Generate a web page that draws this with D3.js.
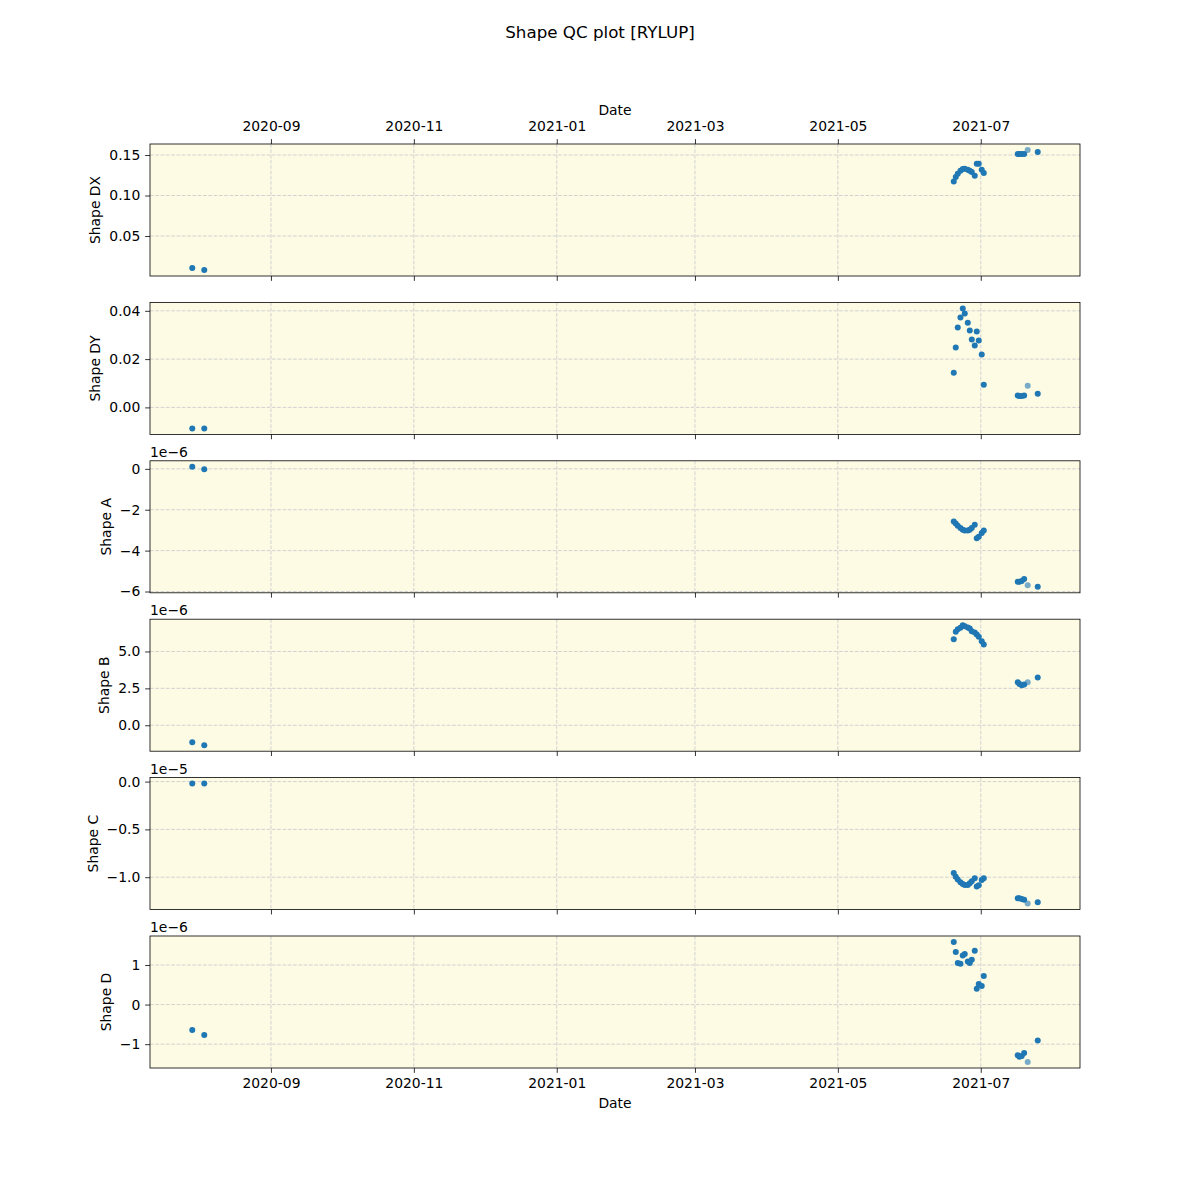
<!DOCTYPE html>
<html><head><meta charset="utf-8">
<script src="https://cdn.jsdelivr.net/npm/d3@7"></script>
<style>body{margin:0;background:#fff}text{font-family:"DejaVu Sans",sans-serif}</style>
</head><body><svg id="c" width="1200" height="1200"></svg>
<script>
// ---- data ----
const dates = [
  "2020-07-29T10:00","2020-08-03T13:00",
  "2021-06-19T11:30","2021-06-20T08:00","2021-06-21T04:30","2021-06-22T08:00","2021-06-23T07:40",
  "2021-06-24T04:00","2021-06-25T11:00","2021-06-26T07:30","2021-06-27T04:00","2021-06-28T10:30",
  "2021-06-29T07:00","2021-06-30T03:30","2021-07-01T10:00","2021-07-02T07:00",
  "2021-07-16T19:00","2021-07-17T12:00","2021-07-18T12:00","2021-07-19T12:30","2021-07-21T01:00","2021-07-25T07:40"
];
const flagged = [0,0, 0,0,0,0,0, 0,0,0,0,0, 0,0,0,0, 0,0,0,0,1,0];
const shapeDX = [0.0105,0.0080, 0.1174,0.1228,0.1269,0.1306,0.1327,0.1331,0.1318,0.1306,0.1290,0.1244,0.1393,0.1393,0.1318,0.1278, 0.1512,0.1512,0.1512,0.1512,0.1562,0.1537];
const shapeDY = [-0.0087,-0.0087, 0.0144,0.0248,0.0331,0.0372,0.0410,0.0389,0.0351,0.0318,0.0281,0.0256,0.0314,0.0277,0.0219,0.0094, 0.0049,0.0047,0.0047,0.0049,0.0090,0.0057];
const shapeA = [0.10e-6,-0.02e-6, -2.58e-6,-2.67e-6,-2.78e-6,-2.89e-6,-2.98e-6,-3.02e-6,-3.02e-6,-2.98e-6,-2.89e-6,-2.73e-6,-3.40e-6,-3.32e-6,-3.14e-6,-3.02e-6, -5.52e-6,-5.52e-6,-5.49e-6,-5.39e-6,-5.69e-6,-5.77e-6];
const shapeB = [-1.15e-6,-1.35e-6, 5.83e-6,6.33e-6,6.51e-6,6.60e-6,6.78e-6,6.71e-6,6.62e-6,6.55e-6,6.37e-6,6.28e-6,6.15e-6,5.99e-6,5.70e-6,5.47e-6, 2.91e-6,2.79e-6,2.72e-6,2.77e-6,2.91e-6,3.24e-6];
const shapeC = [-0.021e-5,-0.021e-5, -0.956e-5,-0.994e-5,-1.025e-5,-1.053e-5,-1.071e-5,-1.081e-5,-1.081e-5,-1.064e-5,-1.043e-5,-1.011e-5,-1.098e-5,-1.085e-5,-1.030e-5,-1.011e-5, -1.221e-5,-1.221e-5,-1.228e-5,-1.235e-5,-1.276e-5,-1.263e-5];
const shapeD = [-0.64e-6,-0.77e-6, 1.58e-6,1.33e-6,1.05e-6,1.03e-6,1.24e-6,1.28e-6,1.09e-6,1.05e-6,1.13e-6,1.36e-6,0.40e-6,0.52e-6,0.47e-6,0.72e-6, -1.28e-6,-1.32e-6,-1.30e-6,-1.22e-6,-1.45e-6,-0.91e-6];

const panelLabels = ["Shape DX","Shape DY","Shape A","Shape B","Shape C","Shape D"];
const panelSeries = [shapeDX, shapeDY, shapeA, shapeB, shapeC, shapeD];
const panelExponent = [0, 0, -6, -6, -5, -6];
const yTickValues = [[0.05,0.10,0.15],[0.00,0.02,0.04],[-6,-4,-2,0],[0.0,2.5,5.0],[-1.0,-0.5,0.0],[-1,0,1]];
const yTickFormats = [".2f",".2f","d",".1f",".1f","d"];
const xTickDates = ["2020-09-01","2020-11-01","2021-01-01","2021-03-01","2021-05-01","2021-07-01"];
const titleText = "Shape QC plot [RYLUP]";
const xLabel = "Date";

// ---- layout ----
const svg = d3.select("#c");
const L = 150, R = 1080, top0 = 144, H = 132, gap = 26.4;
const FS = 13.9, tickLen = 4.86, tickPad = 4.86;
const parse = d3.isoParse;
const xs = dates.map(d => parse(d));
const xExt = d3.extent(xs);
const xm = (xExt[1] - xExt[0]) * 0.05;
const x = d3.scaleTime().domain([new Date(+xExt[0] - xm), new Date(+xExt[1] + xm)]).range([L, R]);
const xTicks = xTickDates.map(d => parse(d));
const fmtX = d3.timeFormat("%Y-%m");
const gridColor = "#cdcdd0";

svg.append("text").attr("x", 600).attr("y", 38).attr("text-anchor", "middle")
  .attr("font-size", 16.7).text(titleText);

panelSeries.forEach((vals, i) => {
  const t = top0 + i * (H + gap), b = t + H;
  const scale = Math.pow(10, panelExponent[i]);
  const v = vals.map(d => d / scale);
  const e = d3.extent(v), m = (e[1] - e[0]) * 0.05;
  const y = d3.scaleLinear().domain([e[0] - m, e[1] + m]).range([b, t]);
  const g = svg.append("g");
  g.append("rect").attr("x", L).attr("y", t).attr("width", R - L).attr("height", H).attr("fill", "#fdfbe3");
  // grid
  g.selectAll(".gx").data(xTicks).enter().append("line")
    .attr("x1", d => x(d)).attr("x2", d => x(d)).attr("y1", t).attr("y2", b)
    .attr("stroke", gridColor).attr("stroke-width", 0.9).attr("stroke-dasharray", "3.7,1.6");
  g.selectAll(".gy").data(yTickValues[i]).enter().append("line")
    .attr("x1", L).attr("x2", R).attr("y1", d => y(d)).attr("y2", d => y(d))
    .attr("stroke", gridColor).attr("stroke-width", 0.9).attr("stroke-dasharray", "3.7,1.6");
  // points
  g.selectAll("circle").data(v).enter().append("circle")
    .attr("cx", (d, j) => x(xs[j])).attr("cy", d => y(d)).attr("r", 3)
    .attr("fill", "#1f77b4").attr("fill-opacity", (d, j) => flagged[j] ? 0.6 : 1);
  // frame
  g.append("rect").attr("x", L).attr("y", t).attr("width", R - L).attr("height", H)
    .attr("fill", "none").attr("stroke", "#000").attr("stroke-width", 0.8);
  // y axis
  const ya = g.append("g").attr("transform", `translate(${L},0)`)
    .call(d3.axisLeft(y).tickValues(yTickValues[i]).tickFormat(d3.format(yTickFormats[i])).tickSize(tickLen).tickPadding(tickPad));
  ya.select(".domain").remove();
  ya.selectAll("line").attr("stroke-width", 0.8);
  ya.selectAll("text").attr("font-size", FS).attr("font-family", "DejaVu Sans");
  let maxW = 0;
  ya.selectAll("text").each(function(){ maxW = Math.max(maxW, this.getComputedTextLength()); });
  const lx = L - tickLen - tickPad - maxW - 5.56 - 3.3;
  g.append("text").attr("transform", `translate(${lx},${t + H / 2}) rotate(-90)`)
    .attr("text-anchor", "middle").attr("font-size", FS).text(panelLabels[i]);
  if (panelExponent[i] !== 0) {
    g.append("text").attr("x", L).attr("y", t - 4).attr("font-size", FS)
      .text("1e\u2212" + Math.abs(panelExponent[i]));
  }
  // x axis ticks
  const xa = g.append("g").attr("transform", `translate(0,${b})`)
    .call(d3.axisBottom(x).tickValues(xTicks).tickFormat(i === 5 ? fmtX : "").tickSize(tickLen).tickPadding(tickPad));
  xa.select(".domain").remove();
  xa.selectAll("line").attr("stroke-width", 0.8);
  xa.selectAll("text").attr("font-size", FS).attr("font-family", "DejaVu Sans");
  if (i === 0) {
    const xt = g.append("g").attr("transform", `translate(0,${t})`)
      .call(d3.axisTop(x).tickValues(xTicks).tickFormat(fmtX).tickSize(tickLen).tickPadding(tickPad + 3));
    xt.select(".domain").remove();
    xt.selectAll("line").attr("stroke-width", 0.8);
    xt.selectAll("text").attr("font-size", FS).attr("font-family", "DejaVu Sans");
    g.append("text").attr("x", (L + R) / 2).attr("y", 115).attr("text-anchor", "middle").attr("font-size", FS).text(xLabel);
  }
  if (i === 5) {
    g.append("text").attr("x", (L + R) / 2).attr("y", 1108).attr("text-anchor", "middle").attr("font-size", FS).text(xLabel);
  }
});
</script></body></html>
